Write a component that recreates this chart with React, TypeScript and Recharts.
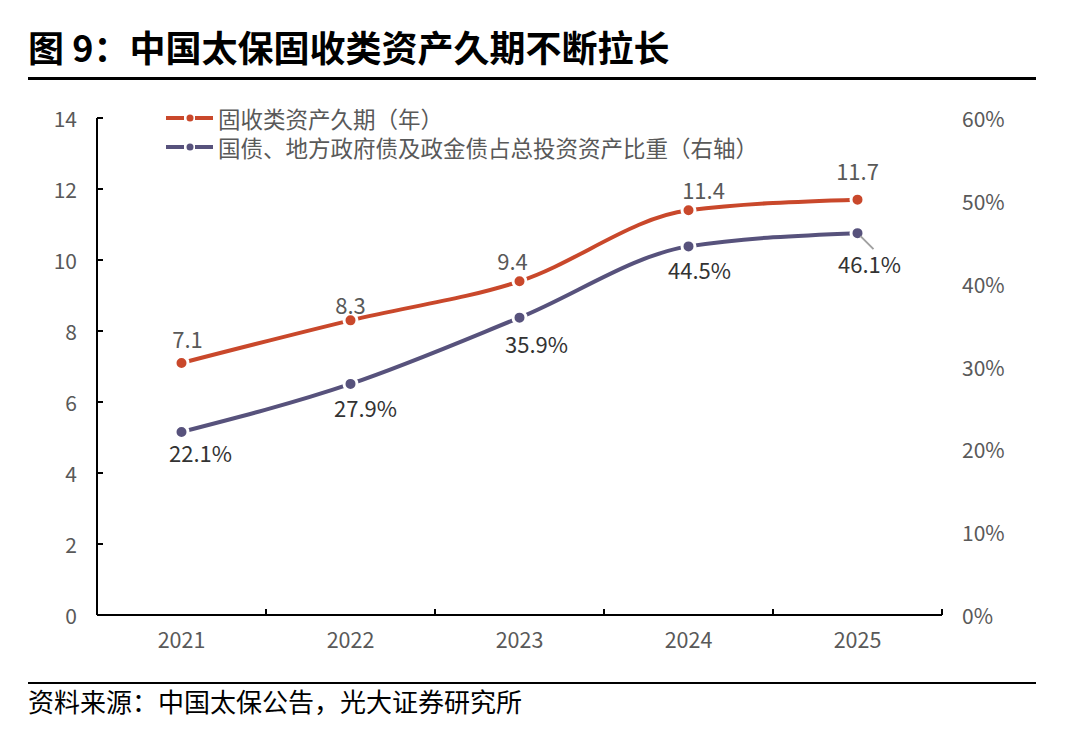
import React from 'react';
import { LineChart, Line, XAxis, YAxis, LabelList } from 'recharts';

const YEARS = [2021, 2022, 2023, 2024, 2025];
const DURATION = [7.1, 8.3, 9.4, 11.4, 11.7];
const GOV_SHARE = [22.1, 27.9, 35.9, 44.5, 46.1];
const LEFT_TICKS = [0, 2, 4, 6, 8, 10, 12, 14];
const RIGHT_TICKS = [0, 10, 20, 30, 40, 50, 60];

const TITLE = '图 9：中国太保固收类资产久期不断拉长';
const SOURCE = '资料来源：中国太保公告，光大证券研究所';
const NAME_A = '固收类资产久期（年）';
const NAME_B = '国债、地方政府债及政金债占总投资资产比重（右轴）';

const RED = '#C9482B';
const PURPLE = '#57527C';
const FONT = '"Noto Sans CJK SC", "Noto Sans", sans-serif';
const GRAY = '#595959';

const data = YEARS.map((year, i) => ({ year, a: DURATION[i], b: GOV_SHARE[i] }));
const X_TICKS = [YEARS[0] - 0.5, ...YEARS.flatMap((y) => [y, y + 0.5])];

// label offsets (styling)
const OFF_A = [[6, -25], [0, -16], [-7, -21], [15, -21], [0, -30]];
const OFF_B = [[19, 20], [15, 23], [17, 25], [11, 23], [12, 30]];

const XTick = (props: any) => {
  const { x, y, payload } = props;
  const v = payload.value;
  if (Number.isInteger(v)) {
    return (
      <text x={x} y={y + 33} textAnchor="middle" fontSize={21.5} fill={GRAY} fontFamily={FONT}>
        {v}
      </text>
    );
  }
  return <line x1={x} x2={x} y1={y} y2={y - 6} stroke="#000" strokeWidth={2} />;
};

const LeftTick = (props: any) => {
  const { x, y, payload } = props;
  return (
    <g>
      <line x1={x} x2={x + 6} y1={y} y2={y} stroke="#000" strokeWidth={2} />
      <text x={x - 20} y={y} textAnchor="end" dominantBaseline="central" fontSize={21} fill={GRAY} fontFamily={FONT}>
        {payload.value}
      </text>
    </g>
  );
};

const RightTick = (props: any) => {
  const { x, y, payload } = props;
  return (
    <text x={x + 20} y={y} textAnchor="start" dominantBaseline="central" fontSize={21} fill={GRAY} fontFamily={FONT}>
      {payload.value}%
    </text>
  );
};

const makeLabel = (offs: number[][], color: string, suffix: string, leaderIdx: number) => (props: any) => {
  const { x, y, value, index } = props;
  const [dx, dy] = offs[index] || [0, 0];
  return (
    <g>
      {index === leaderIdx && (
        <line x1={x + 3} y1={y + 3} x2={x + 16} y2={y + 16} stroke="#A0A0A0" strokeWidth={2} />
      )}
      <text x={x + dx} y={y + dy} textAnchor="middle" dominantBaseline="central" fontSize={22} fill={color} fontFamily={FONT}>
        {value}
        {suffix}
      </text>
    </g>
  );
};

const LegendIcon = ({ color }: { color: string }) => (
  <svg width={50} height={10} style={{ marginRight: 5 }}>
    <line x1={3} x2={21} y1={5} y2={5} stroke={color} strokeWidth={4} />
    <circle cx={27} cy={5} r={3.5} fill={color} />
    <line x1={32} x2={50} y1={5} y2={5} stroke={color} strokeWidth={4} />
  </svg>
);

export default function App() {
  return (
    <div style={{ position: 'absolute', left: 0, top: 0, width: 1068, height: 735, background: '#fff', fontFamily: FONT }}>
      <div style={{ position: 'absolute', left: 28, top: 22, fontSize: 36, fontWeight: 700, color: '#000', whiteSpace: 'nowrap', lineHeight: '48px' }}>
        {TITLE}
      </div>
      <div style={{ position: 'absolute', left: 28, top: 77, width: 1008, height: 3, background: '#000' }} />
      <div style={{ position: 'absolute', left: 0, top: 0 }}>
        <LineChart width={1068} height={735} data={data} margin={{ top: 118, right: 0, left: 0, bottom: 80 }}>
          <XAxis
            dataKey="year"
            type="number"
            domain={[YEARS[0] - 0.5, YEARS[YEARS.length - 1] + 0.5]}
            ticks={X_TICKS}
            interval={0}
            tickLine={false}
            tickSize={0}
            tickMargin={0}
            tick={<XTick />}
            axisLine={{ stroke: '#000', strokeWidth: 2 }}
            height={40}
          />
          <YAxis
            yAxisId="left"
            domain={[0, 14]}
            ticks={LEFT_TICKS}
            interval={0}
            tickLine={false}
            tickSize={0}
            tickMargin={0}
            tick={<LeftTick />}
            axisLine={{ stroke: '#000', strokeWidth: 2 }}
            width={97}
          />
          <YAxis
            yAxisId="right"
            orientation="right"
            domain={[0, 60]}
            ticks={RIGHT_TICKS}
            interval={0}
            tickLine={false}
            tickSize={0}
            tickMargin={0}
            tick={<RightTick />}
            axisLine={false}
            width={126}
          />
          <Line
            yAxisId="left"
            type="monotone"
            dataKey="a"
            name={NAME_A}
            stroke={RED}
            strokeWidth={4}
            dot={{ r: 6.5, fill: RED, stroke: '#fff', strokeWidth: 3 }}
            activeDot={false}
            isAnimationActive={false}
          >
            <LabelList dataKey="a" content={makeLabel(OFF_A, GRAY, '', -1)} />
          </Line>
          <Line
            yAxisId="right"
            type="monotone"
            dataKey="b"
            name={NAME_B}
            stroke={PURPLE}
            strokeWidth={4}
            dot={{ r: 6.5, fill: PURPLE, stroke: '#fff', strokeWidth: 3 }}
            activeDot={false}
            isAnimationActive={false}
          >
            <LabelList dataKey="b" content={makeLabel(OFF_B, '#333', '%', 4)} />
          </Line>
        </LineChart>
      </div>
      <div style={{ position: 'absolute', left: 163, top: 103, fontSize: 22.5, color: GRAY }}>
        <div style={{ display: 'flex', alignItems: 'center', whiteSpace: 'nowrap', height: 29, lineHeight: '26px' }}>
          <LegendIcon color={RED} />
          <span>{NAME_A}</span>
        </div>
        <div style={{ display: 'flex', alignItems: 'center', whiteSpace: 'nowrap', height: 29, lineHeight: '26px' }}>
          <LegendIcon color={PURPLE} />
          <span>{NAME_B}</span>
        </div>
      </div>
      <div style={{ position: 'absolute', left: 28, top: 682, width: 1008, height: 2, background: '#000' }} />
      <div style={{ position: 'absolute', left: 28, top: 684, fontSize: 26, color: '#000', whiteSpace: 'nowrap', lineHeight: '34px' }}>
        {SOURCE}
      </div>
    </div>
  );
}
